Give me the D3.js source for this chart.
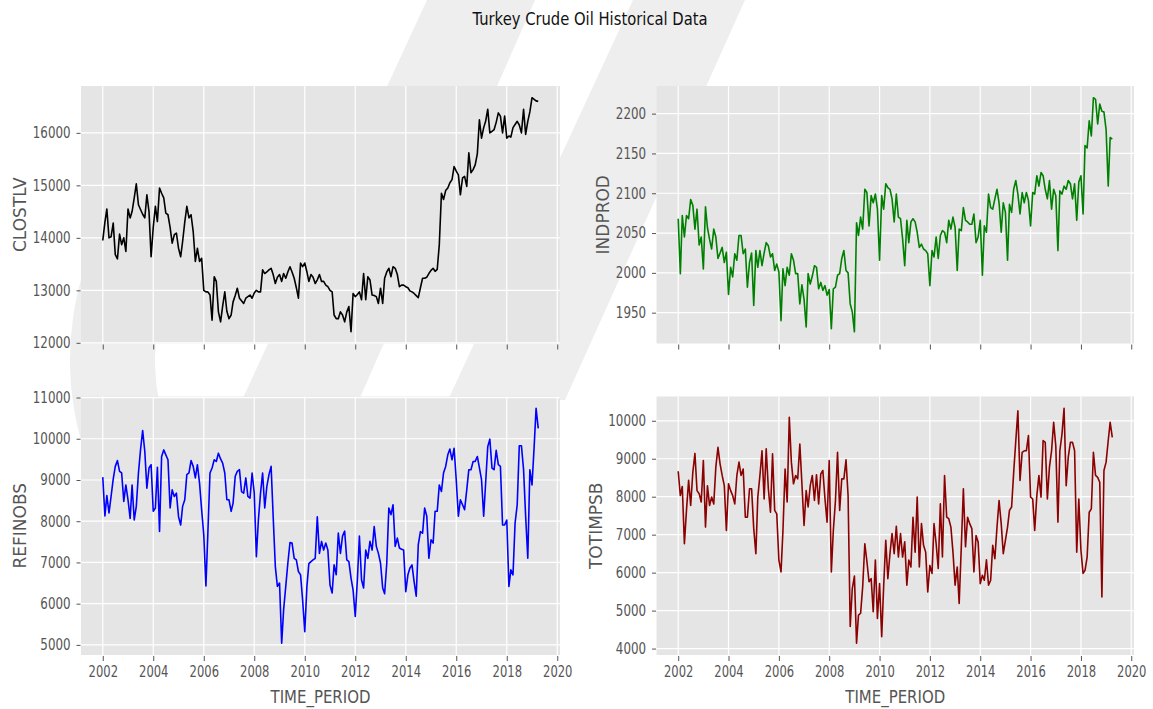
<!DOCTYPE html>
<html>
<head>
<meta charset="utf-8">
<script src="https://cdn.jsdelivr.net/npm/d3@7"></script>
<style>
  body { margin: 0; background: #fff; }
  text { font-family: "DejaVu Sans", sans-serif; }
</style>
</head>
<body>
<div id="chart"></div>
<script>
// monthly values, Jan 2002 .. Apr 2019 (208 months)
const clostlv = [
  13950,14300,14550,14000,14020,14280,13680,13600,14070,13870,
  14000,13740,14550,14380,14500,14760,15030,14630,14540,14450,
  14380,14820,14500,13640,14200,14600,14310,14950,14850,14760,
  14470,14440,14200,13900,14060,14090,13800,13640,13930,14300,
  14600,14380,14440,14120,13550,13800,13550,13610,13000,12970,
  12970,12910,12430,13260,13170,12590,12400,12700,12970,12600,
  12460,12530,12780,12900,13040,12850,12800,12750,12850,12880,
  12910,12850,12950,13000,12970,12970,13390,13320,13350,13390,
  13420,13300,13130,13250,13300,13170,13320,13230,13350,13450,
  13350,13230,13050,12850,13520,13450,13520,13350,13170,13300,
  13250,13130,13200,13300,13170,13170,13100,13070,13000,12970,
  12530,12460,12460,12590,12530,12400,12590,12690,12210,12940,
  12880,12920,12970,12820,13320,12820,13260,13200,12910,12900,
  12880,12750,13040,12750,13230,13350,13420,13260,13450,13420,
  13300,13070,13100,13100,13070,13050,12990,12970,12940,12900,
  12860,13050,13230,13230,13250,13320,13380,13420,13360,13400,
  13870,14850,14730,14900,14950,15050,15110,15360,15270,15200,
  14820,15140,15170,14980,15620,15240,15300,15390,15600,16250,
  15900,16100,16220,16450,16000,16030,16060,16200,16380,16320,
  16000,16320,15900,15940,15920,16100,16160,16220,16150,16000,
  16450,15970,16220,16400,16670,16640,16610,16600
];
const indprod = [
  2068,1999,2072,2045,2072,2068,2092,2085,2055,2080,
  2035,2045,2005,2083,2057,2042,2030,2055,2045,2018,
  2025,2032,2013,2026,1973,2007,1995,2024,2016,2047,
  2047,2024,2030,1982,2013,2025,1959,2028,2007,2028,
  2009,2025,2038,2034,2020,2024,2003,2011,2001,1940,
  2005,1984,2007,1997,2024,2016,1999,1999,1961,1985,
  1967,1932,1999,1986,1996,2009,2007,1980,1988,1978,
  1984,1972,1979,1930,1980,1982,1997,1999,2018,2028,
  2003,2000,1961,1951,1926,2063,2047,2070,2055,2105,
  2101,2059,2097,2088,2099,2080,2016,2097,2080,2112,
  2107,2105,2093,2064,2099,2070,2068,2043,2009,2066,
  2038,2064,2068,2064,2051,2032,2036,2030,2028,2024,
  1984,2028,2020,2045,2018,2047,2053,2051,2038,2066,
  2055,2070,2057,2003,2055,2053,2082,2066,2064,2061,
  2061,2074,2038,2045,2066,1997,2059,2051,2099,2082,
  2080,2093,2105,2088,2051,2088,2076,2016,2086,2076,
  2105,2116,2099,2074,2101,2088,2101,2091,2059,2101,
  2099,2122,2109,2126,2122,2105,2093,2116,2080,2105,
  2097,2028,2103,2099,2109,2105,2116,2112,2093,2112,
  2066,2114,2122,2074,2160,2157,2191,2172,2220,2218,
  2187,2212,2203,2202,2180,2109,2170,2168
];
const refinobs = [
  9070,8130,8620,8200,8600,9020,9330,9470,9210,9170,
  8480,8880,8520,8070,8880,8030,8360,9170,9730,10200,
  9690,8800,9290,9370,8240,8320,9310,7750,9570,9730,
  9610,9490,8320,8760,8600,8680,8110,7910,8360,8520,
  9130,9170,9470,9330,9050,9370,8920,8280,7670,6430,
  7710,9170,9290,9490,9450,9650,9510,9410,9170,8520,
  8520,8240,8440,9090,9210,9250,8720,8680,9050,8600,
  8560,9170,8680,7140,8030,8680,9170,8320,8840,9130,
  9330,8110,6900,6420,6500,5040,5850,6420,6980,7480,
  7470,7100,7060,6780,6700,6090,5320,6420,6970,7020,
  7060,7100,8110,7220,7510,7300,7470,7300,6450,6260,
  6940,6700,7710,7220,7640,7760,7060,7020,6620,6330,
  5690,6580,7640,6580,6380,7300,7100,7510,7300,7870,
  7390,7220,6980,6380,6240,6980,8320,8160,8400,7390,
  7590,7350,7320,7300,6290,6700,6860,6940,6540,6180,
  7430,7750,7710,8320,8120,7100,7550,7470,8240,8240,
  8880,8720,9170,9330,9610,9750,9490,9770,9000,8120,
  8520,8400,8280,8760,9250,9250,9450,9450,9570,9300,
  9000,8120,8920,9810,9990,9290,9250,9720,9370,9330,
  7910,7910,8030,6420,6820,6700,7950,8400,9830,9830,
  9250,8120,7100,9250,8880,9810,10740,10250
];
const totimpsb = [
  8670,8030,8270,6760,7640,8430,7770,8640,9140,8160,
  8080,7860,8950,7200,8290,7770,7990,7810,8780,9300,
  8860,8560,8290,7110,8340,8160,8030,7810,8560,8910,
  8560,8730,7460,7460,8210,8210,7160,6500,7990,8560,
  9210,7940,9260,8210,7590,9130,7640,7550,6330,6020,
  7110,8730,7860,10090,8910,8340,8560,8470,9390,8340,
  7240,8160,7730,8290,8560,7900,8580,7810,8600,8690,
  7940,7330,8950,6020,7110,7900,9170,7640,8470,8470,
  8970,8030,4580,5580,5910,4140,4880,4930,5630,6760,
  6300,5760,5840,4970,6330,4790,5710,4310,5630,6850,
  5840,6500,7030,6500,7220,6410,7030,6410,6810,5670,
  6330,6150,7460,6540,7990,6150,7290,6720,6540,5490,
  6190,5980,7290,6760,6110,7810,6410,8560,7460,7420,
  7200,6540,5670,6150,5190,6680,8210,6680,7460,7290,
  7160,6020,6980,6810,5710,5930,5800,6340,5670,5800,
  6720,6370,7200,7900,7290,6500,6850,7200,7640,7730,
  8640,9480,10260,8430,9170,9210,9210,9610,7990,7940,
  7110,8030,8560,7990,9480,9430,7940,8780,9210,9960,
  9340,7330,9210,9650,10330,8290,9040,9430,9430,9210,
  6540,7940,6590,5980,6060,6410,7590,7680,9170,8560,
  8510,8380,5360,8690,8910,9480,9960,9560
];

const yearTicks = [2002, 2004, 2006, 2008, 2010, 2012, 2014, 2016, 2018, 2020];
const clostlvTicks = [12000, 13000, 14000, 15000, 16000];
const indprodTicks = [1950, 2000, 2050, 2100, 2150, 2200];
const refinobsTicks = [5000, 6000, 7000, 8000, 9000, 10000, 11000];
const totimpsbTicks = [4000, 5000, 6000, 7000, 8000, 9000, 10000];

const months = d3.range(clostlv.length).map(i => new Date(2002, i, 1));

const width = 1153, height = 709;
const svg = d3.select("#chart").append("svg")
  .attr("width", width)
  .attr("height", height);

// faint watermark behind the figure
const wm = svg.append("g").attr("fill", "#eeeeee");
wm.append("path").attr("d", "M633,0 L745,0 L565,400 L448,400 Z");
wm.append("path").attr("d", "M427,0 L535,0 L359,400 L242,400 Z");
wm.append("path")
  .attr("d", d3.arc().innerRadius(215).outerRadius(300).startAngle(-1.95).endAngle(-0.55)())
  .attr("transform", "translate(370,360)");

// shrink text horizontally (the original font is narrower)
function squeeze(sel, k) {
  sel.each(function () {
    const w = this.getComputedTextLength();
    d3.select(this).attr("textLength", w * k).attr("lengthAdjust", "spacingAndGlyphs");
  });
}

const cols = [{x0: 81, x1: 560}, {x0: 656.5, x1: 1134}];
const rows = [{y0: 86, y1: 343.5}, {y0: 396.5, y1: 655}];

const panels = [
  {name: "CLOSTLV", values: clostlv, ticks: clostlvTicks, color: "#000000", col: 0, row: 0},
  {name: "INDPROD", values: indprod, ticks: indprodTicks, color: "#008000", col: 1, row: 0},
  {name: "REFINOBS", values: refinobs, ticks: refinobsTicks, color: "#0000ff", col: 0, row: 1},
  {name: "TOTIMPSB", values: totimpsb, ticks: totimpsbTicks, color: "#8b0000", col: 1, row: 1}
];

const t0 = months[0], t1 = months[months.length - 1];
const tpad = (t1 - t0) * 0.05;

panels.forEach(p => {
  const c = cols[p.col], r = rows[p.row];
  const x = d3.scaleTime()
    .domain([new Date(+t0 - tpad), new Date(+t1 + tpad)])
    .range([c.x0, c.x1]);
  const [lo, hi] = d3.extent(p.values);
  const ypad = (hi - lo) * 0.05;
  const y = d3.scaleLinear().domain([lo - ypad, hi + ypad]).range([r.y1, r.y0]);
  const yt = p.ticks.filter(v => v >= y.domain()[0] && v <= y.domain()[1]);
  const xt = yearTicks.map(v => new Date(v, 0, 1));

  const g = svg.append("g");
  g.append("rect")
    .attr("x", c.x0).attr("y", r.y0)
    .attr("width", c.x1 - c.x0).attr("height", r.y1 - r.y0)
    .attr("fill", "#e5e5e5");

  // grid
  g.selectAll(".gx").data(xt).join("line")
    .attr("x1", d => x(d)).attr("x2", d => x(d))
    .attr("y1", r.y0).attr("y2", r.y1)
    .attr("stroke", "#fff").attr("stroke-width", 1.2);
  g.selectAll(".gy").data(yt).join("line")
    .attr("x1", c.x0).attr("x2", c.x1)
    .attr("y1", d => y(d)).attr("y2", d => y(d))
    .attr("stroke", "#fff").attr("stroke-width", 1.2);

  // series
  const line = d3.line().x((d, i) => x(months[i])).y(d => y(d));
  g.append("path")
    .datum(p.values)
    .attr("d", line)
    .attr("fill", "none")
    .attr("stroke", p.color)
    .attr("stroke-width", 1.6)
    .attr("stroke-linejoin", "round");

  // y axis
  const ya = g.append("g")
    .attr("transform", `translate(${c.x0 - 0.5},0)`)
    .call(d3.axisLeft(y).tickValues(yt).tickSize(4).tickPadding(6).tickFormat(d3.format("d")));
  ya.select(".domain").remove();
  ya.selectAll(".tick line").attr("stroke", "#555");
  ya.selectAll("text").attr("fill", "#555").style("font-size", "15px").call(squeeze, 0.79);

  // x axis (labels only on the bottom row)
  const xa = g.append("g")
    .attr("transform", `translate(0,${r.y1 + 1})`)
    .call(d3.axisBottom(x).tickValues(xt).tickSize(5).tickPadding(5).tickFormat(d3.timeFormat("%Y")));
  xa.select(".domain").remove();
  xa.selectAll(".tick line").attr("stroke", "#555");
  if (p.row === 0) xa.selectAll("text").remove();
  else xa.selectAll("text").attr("fill", "#555").style("font-size", "15px").call(squeeze, 0.77);

  // y label
  const yaw = ya.node().getBBox().width;
  g.append("text")
    .attr("transform", `translate(${c.x0 - yaw - 7},${(r.y0 + r.y1) / 2}) rotate(-90)`)
    .attr("text-anchor", "middle")
    .attr("fill", "#555")
    .style("font-size", "17px")
    .text(p.name);

  if (p.row === 1) {
    g.append("text")
      .attr("x", (c.x0 + c.x1) / 2).attr("y", 703)
      .attr("text-anchor", "middle")
      .attr("fill", "#555")
      .style("font-size", "18px")
      .text("TIME_PERIOD")
      .call(squeeze, 0.83);
  }
});

svg.append("text")
  .attr("x", 590).attr("y", 25)
  .attr("text-anchor", "middle")
  .attr("fill", "#111")
  .style("font-size", "18px")
  .text("Turkey Crude Oil Historical Data")
  .call(squeeze, 0.82);
</script>
</body>
</html>
